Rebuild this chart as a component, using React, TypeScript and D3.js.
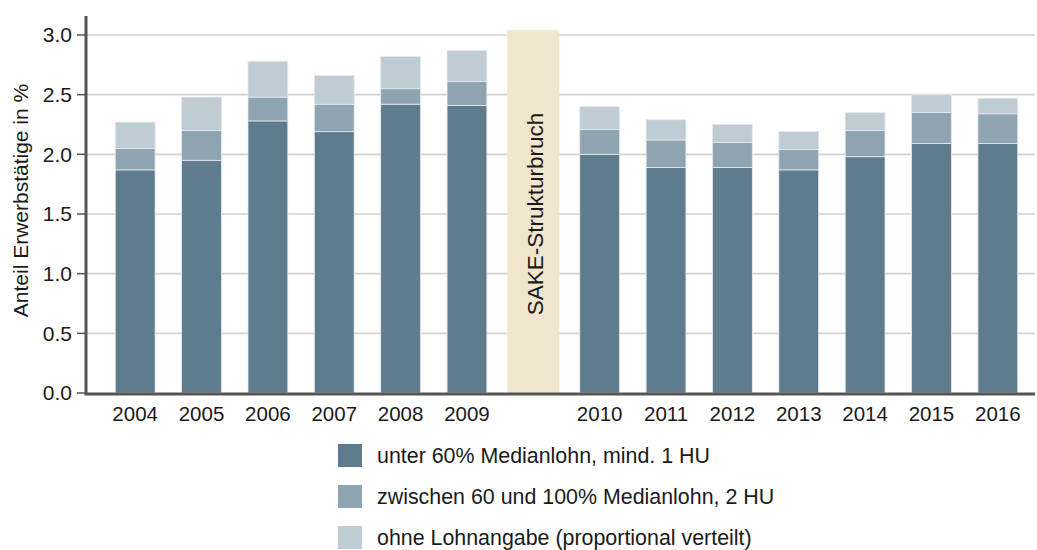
import React from 'react';
import * as d3 from 'd3';

// Jahre, inkl. Lücke für den SAKE-Strukturbruch
const categories = ['2004', '2005', '2006', '2007', '2008', '2009', 'SAKE', '2010', '2011', '2012', '2013', '2014', '2015', '2016'];
const years = ['2004', '2005', '2006', '2007', '2008', '2009', '2010', '2011', '2012', '2013', '2014', '2015', '2016'];

// Segmentwerte in %
const unter60 = [1.87, 1.95, 2.28, 2.19, 2.42, 2.41, 2.0, 1.89, 1.89, 1.87, 1.98, 2.09, 2.09];
const zwischen60100 = [0.18, 0.25, 0.2, 0.23, 0.13, 0.2, 0.21, 0.23, 0.21, 0.17, 0.22, 0.26, 0.25];
const ohneLohn = [0.22, 0.28, 0.3, 0.24, 0.27, 0.26, 0.19, 0.17, 0.15, 0.15, 0.15, 0.15, 0.13];

const seriesNames = ['unter 60% Medianlohn, mind. 1 HU', 'zwischen 60 und 100% Medianlohn, 2 HU', 'ohne Lohnangabe (proportional verteilt)'];
const seriesColors = ['#5f7b8e', '#8fa4b1', '#bfccd4'];
const yTicks = [0, 0.5, 1, 1.5, 2, 2.5, 3];
const breakLabel = 'SAKE-Strukturbruch';
const breakValue = 3.04;
const yTitle = 'Anteil Erwerbstätige in %';

export default function App() {
  const width = 1037;
  const height = 550;
  const axisX = 86;
  const font = '"Liberation Sans", Arial, sans-serif';

  const y = d3.scaleLinear().domain([0, 3]).range([393, 35]);
  const x = d3.scaleBand<string>().domain(categories).range([102, 1031]).paddingInner(0.4).paddingOuter(0.2);

  const rows = years.map((yr, i) => ({ year: yr, unter: unter60[i], zwischen: zwischen60100[i], ohne: ohneLohn[i] }));
  const stack = d3.stack<any>().keys(['unter', 'zwischen', 'ohne']);
  const layers = stack(rows);

  const breakW = 52;
  const breakCx = (x('SAKE') as number) + x.bandwidth() / 2;

  return (
    <svg width={width} height={height} style={{ position: 'absolute', left: 0, top: 0, background: '#fff' }} fontFamily={font}>
      {/* Gitterlinien */}
      {yTicks.filter(t => t > 0).map(t => (
        <line key={t} x1={axisX} x2={1035} y1={y(t)} y2={y(t)} stroke="#d2d2d2" strokeWidth={1.6} />
      ))}
      {/* Strukturbruch */}
      <rect x={breakCx - breakW / 2} y={y(breakValue)} width={breakW} height={y(0) - y(breakValue)} fill="#f0e5cd" />
      <text transform={`translate(${breakCx + 10},${214}) rotate(-90)`} textAnchor="middle" fontSize={22.5} fill="#1a1a1a">{breakLabel}</text>
      {/* Balken */}
      {layers.map((layer, li) => (
        <g key={li} fill={seriesColors[li]}>
          {layer.map((d, i) => (
            <rect key={i} x={x(rows[i].year)} y={y(d[1])} width={x.bandwidth()} height={y(d[0]) - y(d[1])}
              stroke="#e4e9ec" strokeWidth={0.8} />
          ))}
        </g>
      ))}
      {/* Y-Achse */}
      <line x1={axisX} x2={axisX} y1={16} y2={394.5} stroke="#555" strokeWidth={3} />
      {yTicks.map(t => (
        <g key={t}>
          <line x1={77} x2={axisX} y1={y(t)} y2={y(t)} stroke="#555" strokeWidth={1.5} />
          <text x={72} y={y(t)} dy="0.35em" textAnchor="end" fontSize={21} fill="#1a1a1a">{d3.format('.1f')(t)}</text>
        </g>
      ))}
      <text transform={`translate(${28},${200.5}) rotate(-90)`} textAnchor="middle" fontSize={21} fill="#1a1a1a">{yTitle}</text>
      {/* X-Achse */}
      <line x1={axisX - 1.5} x2={1035} y1={y(0) + 1} y2={y(0) + 1} stroke="#555" strokeWidth={3} />
      {years.map(yr => (
        <text key={yr} x={(x(yr) as number) + x.bandwidth() / 2} y={421} textAnchor="middle" fontSize={20.5} fill="#1a1a1a">{yr}</text>
      ))}
      {/* Legende */}
      {seriesNames.map((n, i) => (
        <g key={n} transform={`translate(338,${444 + i * 41})`}>
          <rect width={24} height={23} fill={seriesColors[i]} />
          <text x={39} y={11.5} dy="0.35em" fontSize={21.4} fill="#1a1a1a">{n}</text>
        </g>
      ))}
    </svg>
  );
}
